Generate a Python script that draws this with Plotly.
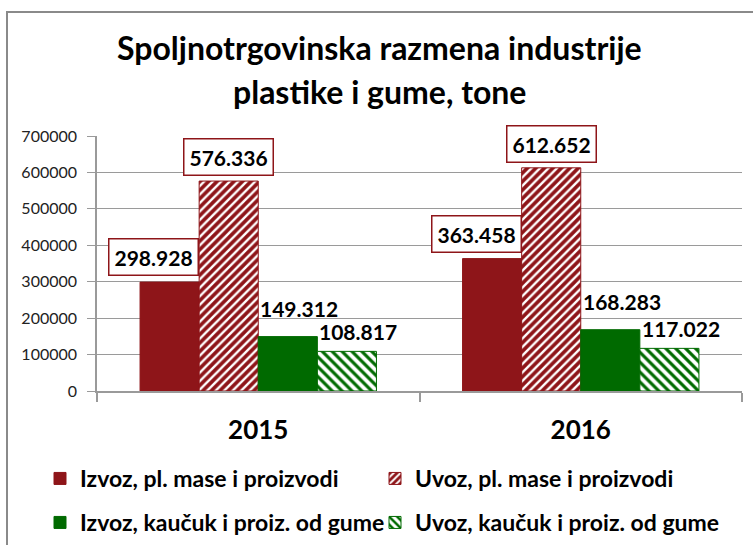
import plotly.graph_objects as go

years = ["2015", "2016"]
series_names = [
    "Izvoz, pl. mase i proizvodi",
    "Uvoz, pl. mase i proizvodi",
    "Izvoz, kaučuk i proiz. od gume",
    "Uvoz, kaučuk i proiz. od gume",
]
izvoz_plast = [298928, 363458]
uvoz_plast = [576336, 612652]
izvoz_guma = [149312, 168283]
uvoz_guma = [108817, 117022]
label_text = {
    0: ["298.928", "363.458"],
    1: ["576.336", "612.652"],
    2: ["149.312", "168.283"],
    3: ["108.817", "117.022"],
}
y_ticks = [0, 100000, 200000, 300000, 400000, 500000, 600000, 700000]
title_lines = ["Spoljnotrgovinska razmena industrije", "plastike i gume, tone"]

RED = "#8E1519"
GREEN = "#006A00"
FONT = "Lato"

W, H = 753, 545
L, R, T, B = 97, 11, 136, 154
PW, PH = W - L - R, H - T - B
BARGAP = 0.267
BW = (1 - BARGAP) / 4


def px_x(px):
    return (px - L) / PW


def px_y(py):
    return (H - B - py) / PH


values = [izvoz_plast, uvoz_plast, izvoz_guma, uvoz_guma]
styles = [
    dict(color=RED, line=dict(color=RED, width=1)),
    dict(color=RED, line=dict(color=RED, width=1),
         pattern=dict(shape="/", fillmode="replace", bgcolor=RED, fgcolor="white", size=6, solidity=0.4)),
    dict(color=GREEN, line=dict(color=GREEN, width=1)),
    dict(color=GREEN, line=dict(color=GREEN, width=1),
         pattern=dict(shape="\\", fillmode="replace", bgcolor="white", fgcolor=GREEN, size=7, solidity=0.45)),
]
legend_ids = ["legend", "legend2", "legend3", "legend4"]
# legend placement (item left px, item top px) for a 2x2 grid
legend_pos = [(40, 457), (375, 457), (40, 501), (375, 501)]

fig = go.Figure()
for k in range(4):
    fig.add_trace(go.Bar(
        x=years, y=values[k], name=series_names[k], marker=styles[k],
        legend=legend_ids[k], showlegend=True,
    ))

label_font = dict(family=FONT, size=21, color="black", weight="bold")
annotations = []
for i in range(2):
    for k in range(4):
        center = i + (k - 1.5) * BW
        v = values[k][i]
        txt = label_text[k][i]
        if k == 0:
            annotations.append(dict(x=center + BW / 2, y=v, xref="x", yref="y", text=txt,
                                    xanchor="right", yanchor="bottom", yshift=6, showarrow=False,
                                    bordercolor=RED, borderwidth=1.5, borderpad=5, bgcolor="white",
                                    font=label_font))
        elif k == 1:
            annotations.append(dict(x=center, y=v, xref="x", yref="y", text=txt,
                                    xanchor="center", yanchor="bottom", yshift=5, showarrow=False,
                                    bordercolor=RED, borderwidth=1.5, borderpad=5, bgcolor="white",
                                    font=label_font))
        else:
            annotations.append(dict(x=center - BW / 2, y=v, xref="x", yref="y", text=txt,
                                    xanchor="left", yanchor="bottom", yshift=(14 if k == 2 else 5),
                                    showarrow=False, font=label_font))

for line, py in zip(title_lines, [48, 92]):
    annotations.append(dict(x=px_x(379), y=px_y(py), xref="paper", yref="paper", text=line,
                            xanchor="center", yanchor="middle", showarrow=False,
                            font=dict(family=FONT, size=32, color="black", weight="bold")))

legend_font = dict(family=FONT, size=23, color="black", weight="bold")
legends = {}
for lid, (lx, ly) in zip(legend_ids, legend_pos):
    legends[lid] = dict(orientation="h", x=px_x(lx), y=px_y(ly), xanchor="left", yanchor="top",
                        font=legend_font, itemclick=False, bgcolor="rgba(0,0,0,0)", visible=True)

fig.update_layout(
    width=W, height=H,
    showlegend=True,
    margin=dict(l=L, r=R, t=T, b=B, autoexpand=False),
    paper_bgcolor="white", plot_bgcolor="white",
    barmode="group", bargap=BARGAP, bargroupgap=0,
    font=dict(family=FONT, color="black"),
    annotations=annotations,
    shapes=[dict(type="rect", xref="paper", yref="paper",
                 x0=px_x(7), x1=px_x(770), y0=px_y(560), y1=px_y(12),
                 line=dict(color="#8a8a8a", width=2), layer="below")],
    xaxis=dict(type="category", tickson="boundaries", ticks="outside", ticklen=9,
               tickcolor="#9a9a9a", tickwidth=1.5, showline=True, linecolor="#9a9a9a", linewidth=1.5,
               showgrid=False, ticklabelstandoff=15,
               tickfont=dict(family=FONT, size=26, color="black", weight="bold")),
    yaxis=dict(range=[0, 700000], tickvals=y_ticks, tickformat="d", ticks="outside", ticklen=8,
               tickcolor="#9a9a9a", showline=True, linecolor="#9a9a9a", linewidth=1.5,
               showgrid=True, gridcolor="#9a9a9a", gridwidth=1, zeroline=False,
               ticklabelstandoff=7,
               tickfont=dict(family=FONT, size=16, color="#222222")),
    **legends,
)

fig.write_html("out.html", config={"displayModeBar": False},
               post_script="document.body.style.margin='0';")
